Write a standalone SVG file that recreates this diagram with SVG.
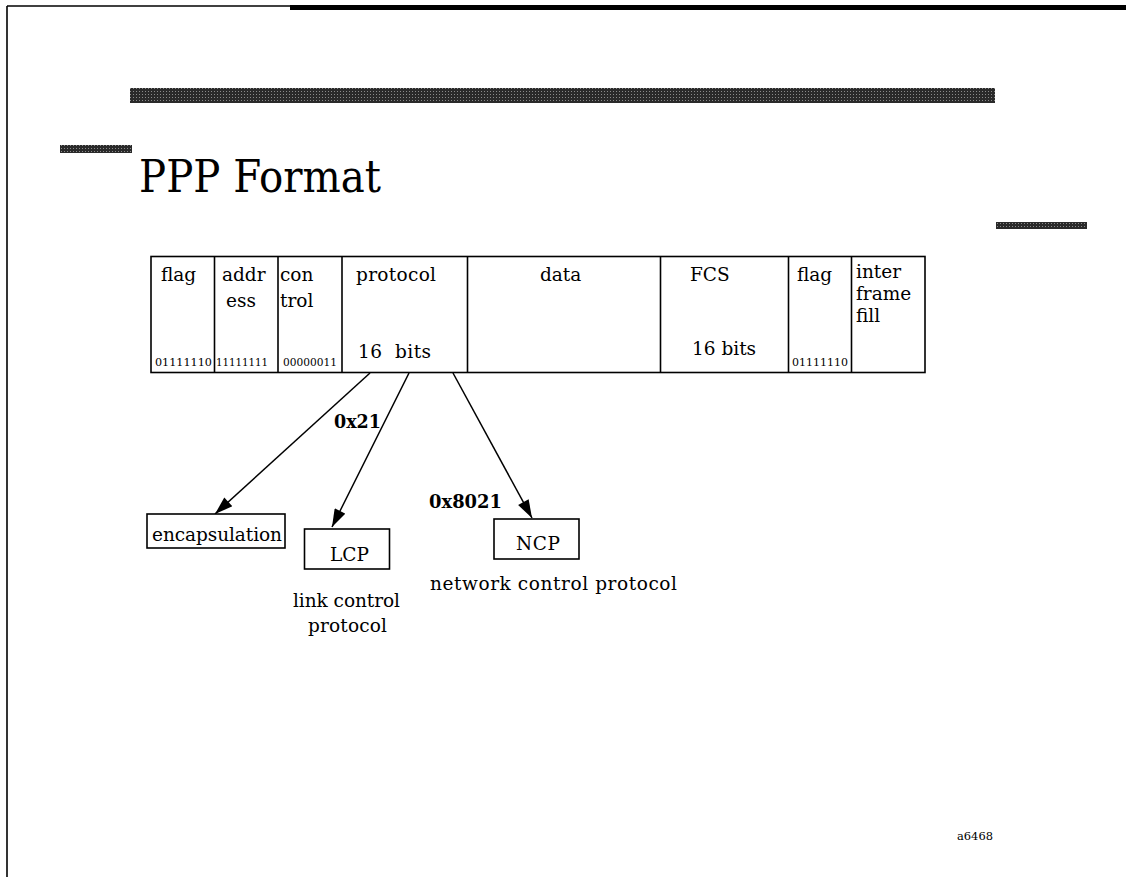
<svg xmlns="http://www.w3.org/2000/svg" width="1126" height="877" viewBox="0 0 1126 877">
  <style>
    .t { font-family: "DejaVu Serif", "Liberation Serif", serif; font-size: 18.5px; fill: #000; }
    .b { font-family: "DejaVu Serif", "Liberation Serif", serif; font-size: 18.5px; font-weight: bold; fill: #000; }
    .s { font-family: "DejaVu Serif", "Liberation Serif", serif; font-size: 11px; fill: #000; }
    .title { font-family: "DejaVu Serif", "Liberation Serif", serif; font-size: 44px; fill: #000; }
    .box { fill: #fff; stroke: #000; stroke-width: 1.6; }
    .div { stroke: #000; stroke-width: 1.6; }
    .bar { fill: url(#dots); }
    .conn { stroke: #000; stroke-width: 1.5; fill: none; marker-end: url(#arrow); }
  </style>
  <defs>
    <pattern id="dots" width="3" height="3" patternUnits="userSpaceOnUse">
      <rect width="3" height="3" fill="#2a2a2a"/>
      <rect x="1" y="1" width="1" height="1" fill="#8a8a8a"/>
    </pattern>
    <marker id="arrow" viewBox="0 0 12 8" refX="12" refY="4" markerWidth="20" markerHeight="12" markerUnits="userSpaceOnUse" orient="auto">
      <path d="M0,0 L12,4 L0,8 Z" fill="#000"/>
    </marker>
  </defs>

  <rect width="1126" height="877" fill="#fff"/>

  <!-- page frame -->
  <g id="frame">
    <line x1="7" y1="6" x2="7" y2="877" stroke="#000" stroke-width="1.6"/>
    <line x1="7" y1="6" x2="292" y2="6" stroke="#000" stroke-width="1.6"/>
    <rect x="290" y="5" width="836" height="5" fill="#000"/>
    <rect class="bar" x="130" y="88" width="865" height="15"/>
    <rect class="bar" x="60" y="145" width="72" height="8"/>
    <rect class="bar" x="996" y="222" width="91" height="7"/>
  </g>

  <text class="title" x="139" y="192" textLength="242" lengthAdjust="spacingAndGlyphs">PPP Format</text>

  <!-- frame layout table -->
  <g id="frame-table">
    <rect class="box" x="151" y="256.5" width="774" height="116" stroke-width="2"/>
    <line class="div" x1="214.5" y1="256.5" x2="214.5" y2="372.5"/>
    <line class="div" x1="278" y1="256.5" x2="278" y2="372.5"/>
    <line class="div" x1="342" y1="256.5" x2="342" y2="372.5"/>
    <line class="div" x1="467.5" y1="256.5" x2="467.5" y2="372.5"/>
    <line class="div" x1="660.5" y1="256.5" x2="660.5" y2="372.5"/>
    <line class="div" x1="788.5" y1="256.5" x2="788.5" y2="372.5"/>
    <line class="div" x1="851.5" y1="256.5" x2="851.5" y2="372.5"/>

    <g id="field-flag1">
      <text class="t" x="161" y="281">flag</text>
      <text class="s" x="155" y="366" textLength="57" lengthAdjust="spacingAndGlyphs">01111110</text>
    </g>
    <g id="field-address">
      <text class="t" x="222" y="281">addr</text>
      <text class="t" x="226" y="307">ess</text>
      <text class="s" x="216" y="366" textLength="52" lengthAdjust="spacingAndGlyphs">11111111</text>
    </g>
    <g id="field-control">
      <text class="t" x="280" y="281">con</text>
      <text class="t" x="280" y="307">trol</text>
      <text class="s" x="283" y="366" textLength="54" lengthAdjust="spacingAndGlyphs">00000011</text>
    </g>
    <g id="field-protocol">
      <text class="t" x="356" y="281" textLength="80" lengthAdjust="spacing">protocol</text>
      <text class="t" x="358" y="358" textLength="73" lengthAdjust="spacing" xml:space="preserve">16  bits</text>
    </g>
    <g id="field-data">
      <text class="t" x="540" y="281">data</text>
    </g>
    <g id="field-fcs">
      <text class="t" x="690" y="281">FCS</text>
      <text class="t" x="692" y="355">16 bits</text>
    </g>
    <g id="field-flag2">
      <text class="t" x="797" y="281">flag</text>
      <text class="s" x="792" y="366" textLength="56" lengthAdjust="spacingAndGlyphs">01111110</text>
    </g>
    <g id="field-fill">
      <text class="t" x="856" y="278">inter</text>
      <text class="t" x="856" y="300">frame</text>
      <text class="t" x="856" y="322">fill</text>
    </g>
  </g>

  <!-- connectors from the protocol field -->
  <g id="connectors">
    <line class="conn" x1="370" y1="373" x2="215" y2="514"/>
    <line class="conn" x1="409" y1="373" x2="332" y2="527"/>
    <line class="conn" x1="453" y1="373" x2="532" y2="518"/>
    <text class="b" x="334" y="428" textLength="47" lengthAdjust="spacingAndGlyphs">0x21</text>
    <text class="b" x="429" y="508" textLength="73" lengthAdjust="spacingAndGlyphs">0x8021</text>
  </g>

  <g id="node-encapsulation">
    <rect class="box" x="147" y="514" width="138" height="34"/>
    <text class="t" x="152" y="541" textLength="130" lengthAdjust="spacing">encapsulation</text>
  </g>

  <g id="node-lcp">
    <rect class="box" x="304.5" y="529" width="85" height="40"/>
    <text class="t" x="330" y="561" textLength="39" lengthAdjust="spacing">LCP</text>
    <text class="t" x="293" y="607" textLength="107" lengthAdjust="spacing">link control</text>
    <text class="t" x="308" y="632" textLength="79" lengthAdjust="spacing">protocol</text>
  </g>

  <g id="node-ncp">
    <rect class="box" x="494" y="519" width="85" height="40"/>
    <text class="t" x="516" y="550" textLength="44" lengthAdjust="spacing">NCP</text>
    <text class="t" x="430" y="590" textLength="247" lengthAdjust="spacing">network control protocol</text>
  </g>

  <text class="s" x="957" y="840" textLength="36" lengthAdjust="spacingAndGlyphs">a6468</text>
</svg>
